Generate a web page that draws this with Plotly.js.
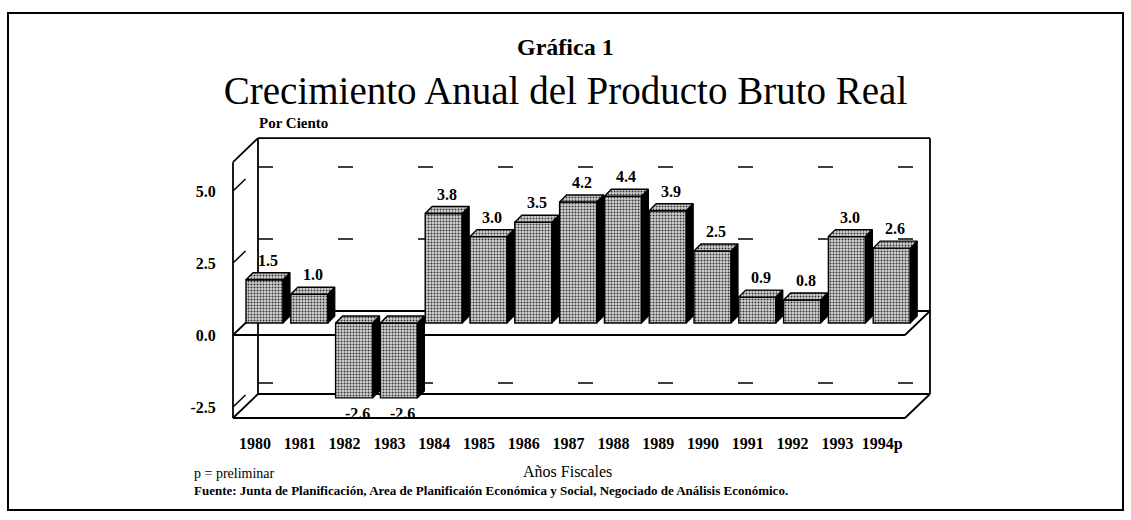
<!DOCTYPE html>
<html>
<head>
<meta charset="utf-8">
<script src="https://cdn.plot.ly/plotly-3.0.1.min.js"></script>
<style>html,body{margin:0;padding:0;background:#fff;}#chart{width:1131px;height:520px;}</style>
</head>
<body>
<div id="chart"></div>
<script>
// ---- data ----
const years = ['1980','1981','1982','1983','1984','1985','1986','1987','1988','1989','1990','1991','1992','1993','1994p'];
const growth = [1.5, 1.0, -2.6, -2.6, 3.8, 3.0, 3.5, 4.2, 4.4, 3.9, 2.5, 0.9, 0.8, 3.0, 2.6];
const yTickVals = [-2.5, 0, 2.5, 5];
const yTickText = ['-2.5', '0.0', '2.5', '5.0'];
const gridVals = [-2.5, 2.5, 5];

// ---- geometry (pixels -> data scale) ----
const W = 1131, H = 520;
const L = 223, R = 940, T = 127, B = 428;         // plot area in px
const X0px = 255, XSTEP = 44.8;                   // category 0 position, px per category
const Y0px = 335, YSTEP = 28.8;                   // value 0 position, px per unit
const xRange = [(L - X0px) / XSTEP, (R - X0px) / XSTEP];
const yRange = [(Y0px - B) / YSTEP, (Y0px - T) / YSTEP];
const DX = 25 / XSTEP, DY = 24 / YSTEP;           // full depth of box
const xl = (233 - X0px) / XSTEP, xr = (905 - X0px) / XSTEP;
const yt = 6.0, yb = (335 - 418) / YSTEP;
const bx = 9.5 / XSTEP, by = 12 / YSTEP;          // bar depth position
const bw = 37 / XSTEP;                            // bar face width
const ddx = 7 / XSTEP, ddy = 7 / YSTEP;           // bar own depth

const px2x = p => (p - L) / (R - L);
const px2y = p => (B - p) / (B - T);

const idx = years.map((_, i) => i);
const barX = idx.map(i => i + bx);

// ---- traces ----
const serif = 'Liberation Serif, Times New Roman, serif';
const stipple = {shape: '.', fgcolor: '#333333', bgcolor: '#d4d4d4', size: 3, solidity: 0.35};

const barTrace = {
  type: 'bar', x: barX, y: growth, base: growth.map(() => by), width: bw,
  marker: {color: '#b0b0b0', pattern: stipple, line: {color: '#000', width: 1.4}},
  hoverinfo: 'skip', showlegend: false
};

const topX = [], topY = [], sideX = [], sideY = [];
growth.forEach((v, i) => {
  const x0 = i + bx - bw / 2, x1 = i + bx + bw / 2;
  const t = by + Math.max(v, 0), b = by + Math.min(v, 0);
  topX.push(x0, x0 + ddx, x1 + ddx, x1, x0, null);
  topY.push(t, t + ddy, t + ddy, t, t, null);
  sideX.push(x1, x1, x1 + ddx, x1 + ddx, x1, null);
  sideY.push(b, t, t + ddy, b + ddy, b, null);
});
const sideTrace = {
  type: 'scatter', mode: 'lines', x: sideX, y: sideY, fill: 'toself',
  fillcolor: '#000', line: {color: '#000', width: 1.2}, hoverinfo: 'skip', showlegend: false
};
const topTrace = {
  type: 'scatter', mode: 'lines', x: topX, y: topY, fill: 'toself',
  fillcolor: '#a8a8a8', fillpattern: stipple, line: {color: '#000', width: 1.4},
  hoverinfo: 'skip', showlegend: false
};

// ---- frame shapes ----
const ln = (x0, y0, x1, y1, extra) => Object.assign({
  type: 'line', xref: 'x', yref: 'y', x0, y0, x1, y1, layer: 'below',
  line: {color: '#000', width: 1.8}
}, extra || {});
const shapes = [
  // back wall
  ln(xl + DX, yb + DY, xl + DX, yt + DY),
  ln(xl + DX, yt + DY, xr + DX, yt + DY),
  ln(xr + DX, yt + DY, xr + DX, yb + DY),
  ln(xl + DX, yb + DY, xr + DX, yb + DY),
  // left wall front edge and diagonals
  ln(xl, yb, xl, yt),
  ln(xl, yt, xl + DX, yt + DY),
  // floor
  ln(xl, yb, xr, yb),
  ln(xl, yb, xl + DX, yb + DY),
  ln(xr, yb, xr + DX, yb + DY),
  // zero plane
  ln(xl, 0, xr, 0),
  ln(xl + DX, DY, xr + DX, DY),
  ln(xl, 0, xl + DX, DY),
  ln(xr, 0, xr + DX, DY)
];
gridVals.forEach(v => {
  shapes.push(ln(xl, v, xl + DX * 0.5, v + DY * 0.5, {line: {color: '#000', width: 1.5}}));
  shapes.push(ln(xl + DX, v + DY, xr + DX, v + DY, {line: {color: '#000', width: 1.5, dash: '15px,65px'}}));
});
// outer border
shapes.push({type: 'rect', xref: 'paper', yref: 'paper', x0: px2x(8), x1: px2x(1123), y0: px2y(510), y1: px2y(13),
  line: {color: '#000', width: 2}, fillcolor: 'rgba(0,0,0,0)', layer: 'below'});

// ---- annotations ----
const annotations = [];
growth.forEach((v, i) => {
  const pos = v >= 0;
  annotations.push({
    xref: 'x', yref: 'y', x: i + bx + ddx / 2, y: pos ? by + v + ddy : by + v,
    text: '<b>' + v.toFixed(1) + '</b>', showarrow: false,
    xanchor: 'center', yanchor: pos ? 'bottom' : 'top', yshift: pos ? 2 : -5,
    font: {family: serif, size: 16, color: '#000'}
  });
});
annotations.push(
  {xref: 'paper', yref: 'paper', x: px2x(565), y: px2y(47), text: '<b>Gráfica 1</b>', showarrow: false,
   xanchor: 'center', yanchor: 'middle', font: {family: serif, size: 24, color: '#000'}},
  {xref: 'paper', yref: 'paper', x: px2x(257), y: px2y(123), text: '<b>Por Ciento</b>', showarrow: false,
   xanchor: 'left', yanchor: 'middle', font: {family: serif, size: 15, color: '#000'}},
  {xref: 'paper', yref: 'paper', x: px2x(567), y: px2y(471), text: 'Años Fiscales', showarrow: false,
   xanchor: 'center', yanchor: 'middle', font: {family: serif, size: 16, color: '#000'}},
  {xref: 'paper', yref: 'paper', x: px2x(192), y: px2y(474), text: 'p = preliminar', showarrow: false,
   xanchor: 'left', yanchor: 'middle', font: {family: serif, size: 14, color: '#000'}},
  {xref: 'paper', yref: 'paper', x: px2x(192), y: px2y(490),
   text: '<b>Fuente: Junta de Planificación, Area de Planificaión Económica y Social, Negociado de Análisis Económico.</b>',
   showarrow: false, xanchor: 'left', yanchor: 'middle', font: {family: serif, size: 13, color: '#000'}}
);

const layout = {
  width: W, height: H,
  margin: {l: L, r: W - R, t: T, b: H - B, pad: 0},
  paper_bgcolor: '#fff', plot_bgcolor: 'rgba(0,0,0,0)',
  title: {text: 'Crecimiento Anual del Producto Bruto Real', font: {family: serif, size: 39, color: '#000'},
          x: 0.5, xref: 'container', xanchor: 'center', y: 1 - 90 / H, yref: 'container', yanchor: 'middle'},
  showlegend: false,
  barmode: 'overlay',
  xaxis: {range: xRange, tickmode: 'array', tickvals: idx, ticktext: years.map(y => '<b>' + y + '</b>'),
          showgrid: false, zeroline: false, showline: false, ticks: 'outside', ticklen: 1,
          tickcolor: 'rgba(0,0,0,0)', tickfont: {family: serif, size: 16, color: '#000'}, fixedrange: true},
  yaxis: {range: yRange, tickmode: 'array', tickvals: yTickVals, ticktext: yTickText.map(t => '<b>' + t + '</b>'),
          showgrid: false, zeroline: false, showline: false, ticks: 'outside', ticklen: 3,
          tickcolor: 'rgba(0,0,0,0)', tickfont: {family: serif, size: 16, color: '#000'}, fixedrange: true},
  shapes: shapes,
  annotations: annotations
};

Plotly.newPlot('chart', [barTrace, sideTrace, topTrace], layout, {displayModeBar: false, staticPlot: true});
</script>
</body>
</html>
